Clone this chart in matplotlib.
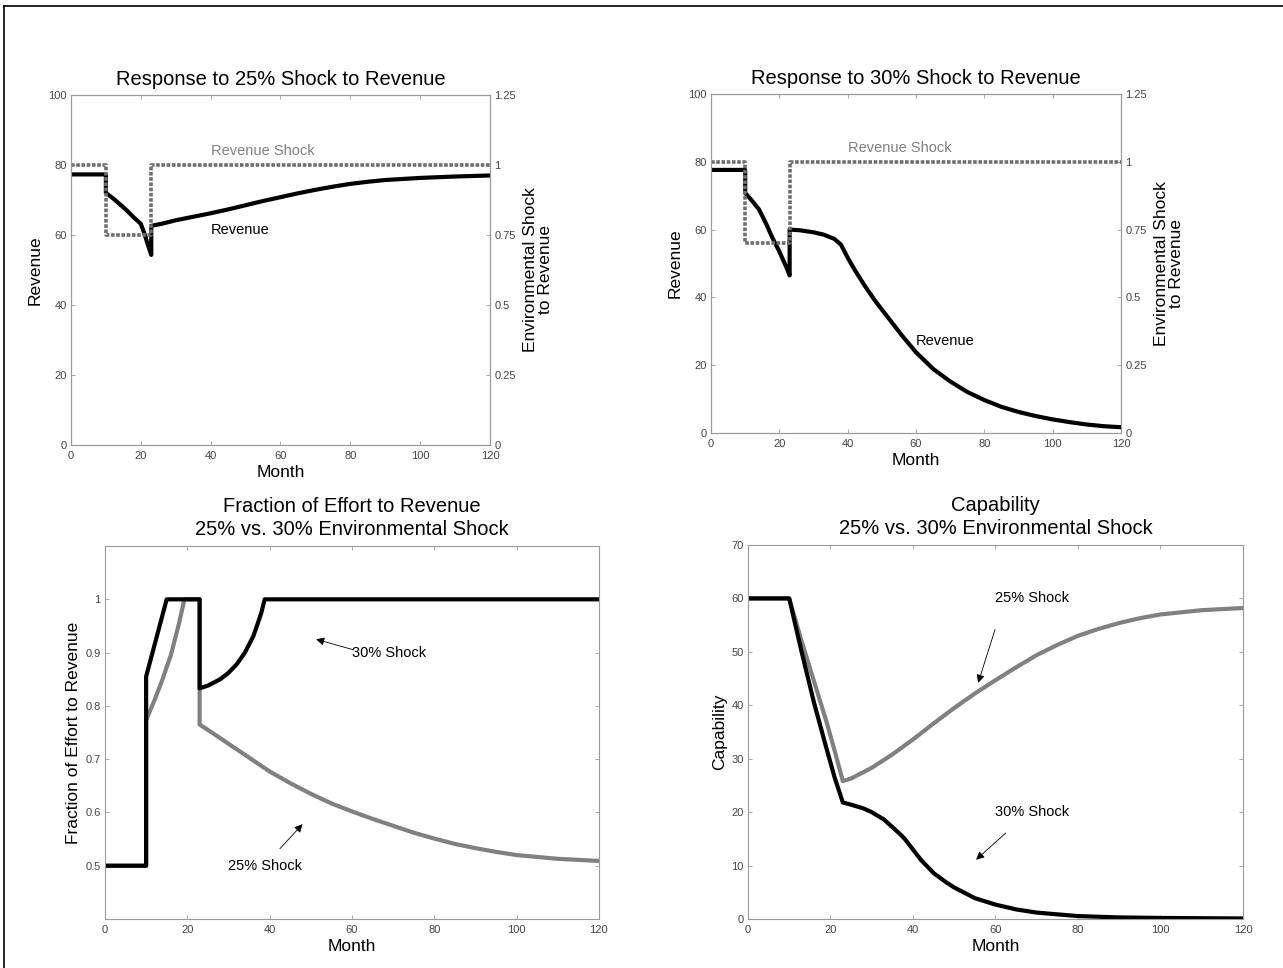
"""
Revenue shock response, fraction of effort and capability for a 25% and a 30%
environmental shock.
"""

import matplotlib.pyplot as plt
from matplotlib.lines import Line2D

# top left: 25% shock
rev25_month = [0, 10, 10, 12, 14, 16, 18, 20, 21, 22, 23, 23, 26, 30, 35, 40,
               45, 50, 55, 60, 65, 70, 75, 80, 85, 90, 95, 100, 110, 120]
rev25 = [77.3, 77.3, 72.0, 70.5, 68.8, 67.0, 65.0, 63.2, 60.5, 57.3, 54.3, 62.6,
         63.2, 64.2, 65.2, 66.2, 67.3, 68.5, 69.7, 70.8, 71.9, 72.9, 73.8, 74.6,
         75.2, 75.7, 76.0, 76.3, 76.7, 77.0]
shock25_month = [0, 10, 10, 23, 23, 120]
shock25 = [1.0, 1.0, 0.75, 0.75, 1.0, 1.0]

# top right: 30% shock
rev30_month = [0, 10, 10, 12, 14, 16, 18, 20, 22, 23, 23, 26, 30, 33, 36, 38,
               40, 42, 45, 48, 50, 53, 56, 60, 65, 70, 75, 80, 85, 90, 95, 100,
               105, 110, 115, 120]
rev30 = [77.6, 77.6, 70.8, 68.5, 66.0, 62.0, 57.5, 53.5, 49.0, 46.5, 60.0, 59.8,
         59.2, 58.5, 57.3, 55.6, 51.7, 48.2, 43.4, 39.0, 36.4, 32.5, 28.6, 23.8,
         18.9, 15.2, 12.1, 9.7, 7.7, 6.2, 5.0, 4.0, 3.2, 2.5, 2.0, 1.7]
shock30_month = [0, 10, 10, 23, 23, 120]
shock30 = [1.0, 1.0, 0.7, 0.7, 1.0, 1.0]

# bottom left: fraction of effort to revenue
eff30_month = [0, 10, 10, 15, 23, 23, 25, 28, 30, 32, 34, 36, 37, 38, 38.8, 120]
eff30 = [0.5, 0.5, 0.855, 1.0, 1.0, 0.833, 0.838, 0.85, 0.862, 0.878, 0.9,
         0.93, 0.952, 0.975, 1.0, 1.0]
eff25_month = [0, 10, 10, 12, 14, 15, 16, 17, 18, 19.3, 23, 23, 25, 30, 35, 40,
               45, 50, 55, 60, 65, 70, 75, 80, 85, 90, 95, 100, 110, 120]
eff25 = [0.5, 0.5, 0.773, 0.81, 0.85, 0.873, 0.895, 0.925, 0.955, 1.0, 1.0,
         0.765, 0.755, 0.729, 0.703, 0.677, 0.655, 0.635, 0.617, 0.602, 0.588,
         0.575, 0.562, 0.551, 0.541, 0.533, 0.526, 0.52, 0.513, 0.509]

# bottom right: capability
cap30_month = [0, 10, 13, 16, 19, 21, 23, 25, 28, 30, 33, 35, 37, 38, 40, 42,
               45, 48, 50, 55, 60, 65, 70, 80, 90, 100, 110, 120]
cap30 = [60, 60, 50, 40.5, 32, 26.5, 21.8, 21.4, 20.7, 20.0, 18.6, 17.2, 15.8,
         15.0, 13.0, 11.0, 8.6, 6.9, 5.9, 3.9, 2.7, 1.8, 1.2, 0.55, 0.3, 0.2,
         0.15, 0.1]
cap25_month = [0, 10, 13, 16, 19, 21, 23, 25, 30, 35, 40, 45, 50, 55, 60, 65,
               70, 75, 80, 85, 90, 95, 100, 110, 120]
cap25 = [60, 60, 52, 44.5, 37, 31.5, 25.8, 26.3, 28.3, 30.8, 33.6, 36.6, 39.5,
         42.2, 44.7, 47.1, 49.4, 51.3, 53.0, 54.3, 55.4, 56.3, 57.0, 57.8, 58.2]

month_ticks = [0, 20, 40, 60, 80, 100, 120]
shock_ticks = [0, 0.25, 0.5, 0.75, 1, 1.25]
shock_labels = ["0", "0.25", "0.5", "0.75", "1", "1.25"]
effort_ticks = [0.5, 0.6, 0.7, 0.8, 0.9, 1.0]
effort_labels = ["0.5", "0.6", "0.7", "0.8", "0.9", "1"]

BLACK = "black"
GRAY = "#808080"
SHOCK_GRAY = "#6e6e6e"
AXIS_GRAY = "#9a9a9a"


def style_axes(ax, top=True, right=True):
    for spine in ax.spines.values():
        spine.set_color(AXIS_GRAY)
        spine.set_linewidth(0.8)
    ax.tick_params(direction="in", length=3, width=0.6, color=AXIS_GRAY,
                   labelsize=8, labelcolor="#444444", top=top, right=right,
                   pad=3)
    ax.tick_params(axis="x", pad=4)


def shock_panel(fig, rect, title, rev_month, rev, shock_month, shock,
                rev_label_xy):
    ax = fig.add_axes(rect)
    ax2 = ax.twinx()

    ax.plot(rev_month, rev, color=BLACK, linewidth=3.0, zorder=3)
    ax2.plot(shock_month, shock, color=SHOCK_GRAY, linewidth=2.6,
             dashes=(1.0, 0.45), dash_capstyle="butt")

    ax.set_xlim(0, 120)
    ax.set_ylim(0, 100)
    ax2.set_ylim(0, 1.25)
    ax.set_xticks(month_ticks)
    ax.set_yticks(range(0, 101, 20))
    ax2.set_yticks(shock_ticks)
    ax2.set_yticklabels(shock_labels)

    style_axes(ax, top=True, right=False)
    style_axes(ax2, top=False, right=True)

    ax.set_title(title, fontsize=14.5, pad=7)
    ax.set_xlabel("Month", fontsize=12.5, labelpad=3)
    ax.set_ylabel("Revenue", fontsize=12.5, labelpad=4)
    ax2.set_ylabel("Environmental Shock\nto Revenue", fontsize=12.5,
                   labelpad=5, linespacing=1.0)

    ax.text(40, 84, "Revenue Shock", color=GRAY, fontsize=10.5, va="center")
    ax.text(rev_label_xy[0], rev_label_xy[1], "Revenue", color=BLACK,
            fontsize=10.5, va="center")
    return ax


def arrow(ax, text, text_xy, tail, head):
    ax.text(text_xy[0], text_xy[1], text, fontsize=10.5, va="center")
    ax.annotate("", xy=head, xytext=tail,
                arrowprops=dict(arrowstyle="-|>", color="black", lw=0.6,
                                mutation_scale=12, shrinkA=0, shrinkB=0))


def main():
    plt.rcParams["font.family"] = ["Liberation Sans", "DejaVu Sans"]

    fig = plt.figure(figsize=(12.83, 9.68), dpi=100)

    shock_panel(fig, [0.0553, 0.5403, 0.3266, 0.3616],
                "Response to 25% Shock to Revenue",
                rev25_month, rev25, shock25_month, shock25, (40, 61.5))
    shock_panel(fig, [0.5542, 0.5527, 0.3196, 0.3502],
                "Response to 30% Shock to Revenue",
                rev30_month, rev30, shock30_month, shock30, (60, 27))

    # fraction of effort
    ax = fig.add_axes([0.0818, 0.0506, 0.3850, 0.3853])
    ax.plot(eff25_month, eff25, color=GRAY, linewidth=3.0)
    ax.plot(eff30_month, eff30, color=BLACK, linewidth=3.0)
    ax.set_xlim(0, 120)
    ax.set_ylim(0.4, 1.1)
    ax.set_xticks(month_ticks)
    ax.set_yticks(effort_ticks)
    ax.set_yticklabels(effort_labels)
    style_axes(ax)
    ax.set_title("Fraction of Effort to Revenue\n25% vs. 30% Environmental Shock",
                 fontsize=14.5, pad=8, linespacing=1.25)
    ax.set_xlabel("Month", fontsize=12.5, labelpad=3)
    ax.set_ylabel("Fraction of Effort to Revenue", fontsize=12.5, labelpad=3)
    arrow(ax, "30% Shock", (60, 0.899), (60.5, 0.905), (51.3, 0.925))
    arrow(ax, "25% Shock", (29.8, 0.499), (42.5, 0.532), (48, 0.578))

    # capability
    ax = fig.add_axes([0.5830, 0.0506, 0.3858, 0.3864])
    ax.plot(cap25_month, cap25, color=GRAY, linewidth=3.0)
    ax.plot(cap30_month, cap30, color=BLACK, linewidth=3.0)
    ax.set_xlim(0, 120)
    ax.set_ylim(0, 70)
    ax.set_xticks(month_ticks)
    ax.set_yticks(range(0, 71, 10))
    style_axes(ax)
    ax.set_title("Capability\n25% vs. 30% Environmental Shock",
                 fontsize=14.5, pad=8, linespacing=1.25)
    ax.set_xlabel("Month", fontsize=12.5, labelpad=3)
    ax.set_ylabel("Capability", fontsize=12.5, labelpad=3)
    arrow(ax, "25% Shock", (60, 60), (59.9, 54.2), (55.8, 44.2))
    arrow(ax, "30% Shock", (60, 20), (62.5, 16.1), (55.3, 11.1))

    # page frame on the top and left edges
    fig.add_artist(Line2D([4 / 1283, 1], [1 - 5.5 / 968, 1 - 5.5 / 968],
                          color="black", linewidth=1.2))
    fig.add_artist(Line2D([4 / 1283, 4 / 1283], [0, 1 - 5.5 / 968],
                          color="black", linewidth=1.2))

    fig.savefig("out.png", dpi=100, facecolor="white")


if __name__ == "__main__":
    main()
